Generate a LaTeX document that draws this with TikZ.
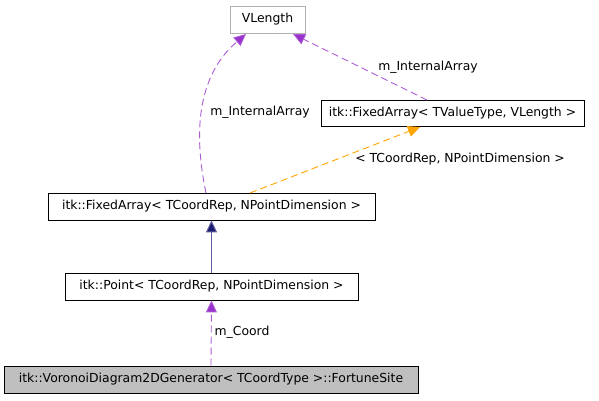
\documentclass[tikz,border=0pt]{standalone}
\usepackage{fontspec}
\setmainfont{DejaVu Sans}
\usetikzlibrary{arrows.meta}
\definecolor{edgepurple}{RGB}{153,50,204}
\definecolor{edgeorange}{RGB}{255,165,0}
\definecolor{edgenavy}{RGB}{25,25,112}
\definecolor{greyfill}{RGB}{191,191,191}
\begin{document}
\begin{tikzpicture}[x=1pt,y=-1pt,
  box/.style={draw=black,line width=0.8pt,fill=white,inner sep=0pt,font=\fontsize{12.4}{14}\selectfont},
  lbl/.style={font=\fontsize{12.4}{14}\selectfont,inner sep=1pt},
  purpledash/.style={-{Triangle[width=11pt,length=12pt,fill=edgepurple]},draw=edgepurple!80,dash pattern=on 7pt off 4pt,line width=0.9pt},
]
\useasboundingbox (0,0) rectangle (599,400);
\node[box,draw=gray!60,minimum width=75pt,minimum height=27pt] (vl) at (267.5,19.5) {VLength};
\node[box,minimum width=263pt,minimum height=26pt] (fav) at (452.5,113) {itk::FixedArray< TValueType, VLength >};
\node[box,minimum width=327pt,minimum height=27pt] (fac) at (211.5,206.5) {itk::FixedArray< TCoordRep, NPointDimension >};
\node[box,minimum width=293pt,minimum height=27pt] (pt) at (211.5,286.5) {itk::Point< TCoordRep, NPointDimension >};
\node[box,fill=greyfill,minimum width=414pt,minimum height=27pt] (fs) at (211,379.5) {itk::VoronoiDiagram2DGenerator< TCoordType >::FortuneSite};
\coordinate (a1) at (427,100);
\coordinate (t1) at (293,34);
\draw[purpledash] (a1) -- (t1);
\node[lbl] (l1) at (428,67) {m\_InternalArray};
\coordinate (a2) at (206,193);
\coordinate (t2) at (246,34);
\draw[purpledash] (a2) .. controls (196,145) and (192,80) .. (t2);
\node[lbl] (l2) at (260,112) {m\_InternalArray};
\coordinate (a3) at (250,193);
\coordinate (t3) at (420,127);
\draw[-{Triangle[width=11pt,length=12pt,fill=edgeorange]},draw=edgeorange,dash pattern=on 7pt off 4pt,line width=0.9pt] (a3) -- (t3);
\node[lbl] (l3) at (460,159) {< TCoordRep, NPointDimension >};
\draw[-{Triangle[width=11pt,length=12pt,fill=edgenavy]},draw=edgenavy!70,line width=1pt] (pt.north) -- (fac.south);
\draw[purpledash] (fs.north) -- (pt.south);
\node[lbl] (l4) at (242,332) {m\_Coord};
\end{tikzpicture}
\end{document}
